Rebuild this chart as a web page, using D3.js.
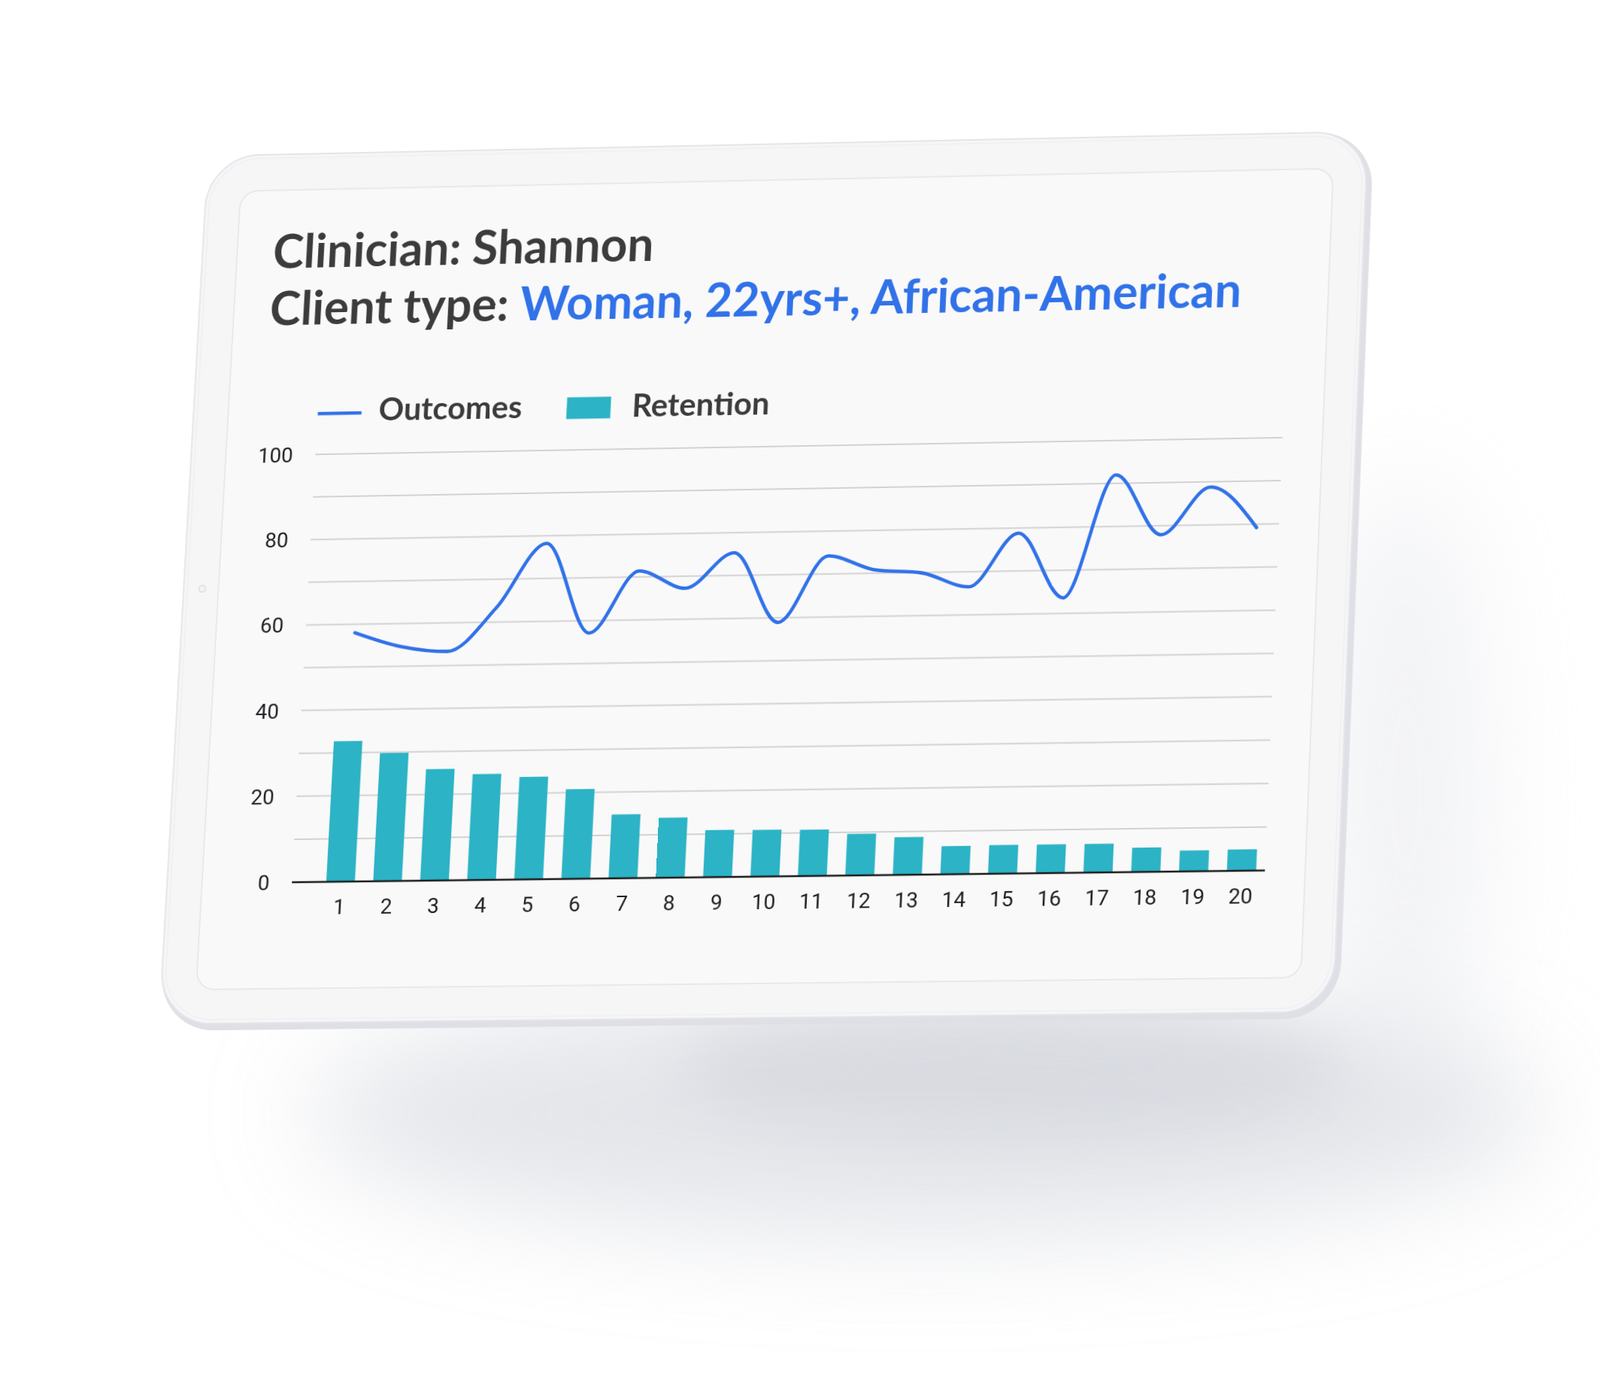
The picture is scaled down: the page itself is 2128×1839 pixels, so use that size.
<!DOCTYPE html>
<html><head><meta charset="utf-8">
<script src="https://cdn.jsdelivr.net/npm/d3@7"></script>
<style>
html,body{margin:0;padding:0;background:#fff;width:2128px;height:1839px;overflow:hidden;}
#bg{position:absolute;left:0;top:0;}
#plane{position:absolute;left:0;top:0;width:2128px;height:1839px;transform-origin:0 0;}
text{white-space:pre;}
</style></head><body>
<svg id="bg" width="2128" height="1839"></svg>
<div id="plane"><svg id="chart" width="2128" height="1839"></svg></div>
<script>
// ---------------- data ----------------
const categories = ["1","2","3","4","5","6","7","8","9","10","11","12","13","14","15","16","17","18","19","20"];
const outcomes   = [58.0, 54.6, 53.3, 63.4, 78.2, 57.1, 71.4, 67.2, 75.3, 58.9, 74.2, 70.8, 69.9, 66.5, 78.8, 63.6, 92.0, 77.9, 88.8, 79.2];
const retention  = [32.7, 29.8, 25.9, 24.6, 23.8, 20.8, 14.8, 13.9, 10.9, 10.8, 10.7, 9.6, 8.7, 6.5, 6.6, 6.6, 6.6, 5.6, 4.8, 4.9];
const yTickLabels = [0, 20, 40, 60, 80, 100];
const gridValues  = [10, 20, 30, 40, 50, 60, 70, 80, 90, 100];
const seriesNames = ["Outcomes", "Retention"];
const titleLine1 = "Clinician: Shannon";
const titleLabel = "Client type: ";
const titleValue = "Woman, 22yrs+, African-American";

// ---------------- colours ----------------
const BLUE = "#3172e9", TEAL = "#2cb3c6", DARK = "#3c3c3c", GRID = "#d2d2d2";

// ---------------- perspective plane ----------------
function homography(src, dst){
  const A=[], b=[];
  for(let i=0;i<4;i++){
    const [x,y]=src[i], [u,v]=dst[i];
    A.push([x,y,1,0,0,0,-x*u,-y*u]); b.push(u);
    A.push([0,0,0,x,y,1,-x*v,-y*v]); b.push(v);
  }
  const n=8;
  for(let i=0;i<n;i++){
    let p=i; for(let r=i+1;r<n;r++) if(Math.abs(A[r][i])>Math.abs(A[p][i])) p=r;
    [A[i],A[p]]=[A[p],A[i]]; [b[i],b[p]]=[b[p],b[i]];
    for(let r=i+1;r<n;r++){ const f=A[r][i]/A[i][i]; for(let c=i;c<n;c++) A[r][c]-=f*A[i][c]; b[r]-=f*b[i]; }
  }
  const h=new Array(n);
  for(let i=n-1;i>=0;i--){ let s=b[i]; for(let c=i+1;c<n;c++) s-=A[i][c]*h[c]; h[i]=s/A[i][i]; }
  return h;
}
function applyH(h,[x,y]){ const w=h[6]*x+h[7]*y+1; return [(h[0]*x+h[1]*y+h[2])/w,(h[3]*x+h[4]*y+h[5])/w]; }

// local plot rectangle
const L=405, R=1695, T=594, B=1165;
const localQuad = [[L,T],[R,T],[L,B],[R,B]];
const screenQuad = [[419.3,604.3],[1706,582],[388.3,1173.3],[1682.7,1157.7]];
const H = homography(localQuad, screenQuad);
const Hi = homography(screenQuad, localQuad);
const inv = p => applyH(Hi, p);
d3.select("#plane").style("transform",
  `matrix3d(${H[0]},${H[3]},0,${H[6]},${H[1]},${H[4]},0,${H[7]},0,0,1,0,${H[2]},${H[5]},0,1)`);

function rectFrom(tl,tr,bl,br){
  const a=inv(tl), b=inv(tr), c=inv(bl), d=inv(br);
  const x=(a[0]+c[0])/2, y=(a[1]+b[1])/2, x2=(b[0]+d[0])/2, y2=(c[1]+d[1])/2;
  return {x, y, w:x2-x, h:y2-y};
}

// ---------------- background shadow (page space) ----------------
const bg = d3.select("#bg");
const defs = bg.append("defs");
defs.append("filter").attr("id","blur").attr("x","-60%").attr("y","-60%").attr("width","220%").attr("height","220%")
  .append("feGaussianBlur").attr("stdDeviation",70);
defs.append("filter").attr("id","blur2").attr("x","-60%").attr("y","-60%").attr("width","220%").attr("height","220%")
  .append("feGaussianBlur").attr("stdDeviation",40);
bg.append("ellipse").attr("cx",1230).attr("cy",1480).attr("rx",820).attr("ry",165)
  .attr("fill","#cfd1d9").attr("opacity",0.55).attr("filter","url(#blur)");
bg.append("ellipse").attr("cx",1350).attr("cy",1420).attr("rx",450).attr("ry",90)
  .attr("fill","#c9ccd5").attr("opacity",0.45).attr("filter","url(#blur2)");
bg.append("ellipse").attr("cx",1870).attr("cy",1050).attr("rx",110).attr("ry",420)
  .attr("fill","#dfe1e7").attr("opacity",0.4).attr("filter","url(#blur)");

// ---------------- tablet (in plane) ----------------
const svg = d3.select("#chart");
const outer = rectFrom([276,206],[1830,176],[212,1374],[1779,1352]);
svg.append("rect").attr("x",outer.x).attr("y",outer.y).attr("width",outer.w).attr("height",outer.h)
  .attr("rx",74).attr("fill","#dfe0e5");
svg.append("rect").attr("x",outer.x).attr("y",outer.y).attr("width",outer.w-8).attr("height",outer.h-9)
  .attr("rx",70).attr("fill","#f6f6f7").attr("stroke","#e4e5ea").attr("stroke-width",2);
svg.append("rect").attr("x",outer.x+5).attr("y",outer.y+5).attr("width",outer.w-18).attr("height",outer.h-19)
  .attr("rx",66).attr("fill","none").attr("stroke","#eeeff2").attr("stroke-width",1.5);
const scr = rectFrom([319,254],[1771,224],[262,1316],[1733,1300]);
svg.append("rect").attr("x",scr.x).attr("y",scr.y).attr("width",scr.w).attr("height",scr.h)
  .attr("rx",24).attr("fill","#f9f9f9").attr("stroke","#e4e4e8").attr("stroke-width",1.5);
const cam = inv([269,783]);
svg.append("circle").attr("cx",cam[0]).attr("cy",cam[1]).attr("r",4.5)
  .attr("fill","#f3f3f5").attr("stroke","#d6d7dc").attr("stroke-width",1.2);

// ---------------- title ----------------
const t1p = inv([362,357]), t2p = inv([358,433]);
const t1 = svg.append("text").attr("x",t1p[0]).attr("y",t1p[1])
  .style("font-family","Lato").style("font-weight",700).style("font-size","58px").attr("fill",DARK).text(titleLine1);
const t2 = svg.append("text").attr("x",t2p[0]).attr("y",t2p[1])
  .style("font-family","Lato").style("font-weight",700).style("font-size","58px");
t2.append("tspan").attr("fill",DARK).text(titleLabel);
t2.append("tspan").attr("fill",BLUE).text(titleValue);
const tfs = 58*1300/t2.node().getComputedTextLength();
t1.style("font-size",tfs+"px"); t2.style("font-size",tfs+"px");

// ---------------- scales ----------------
const y = d3.scaleLinear().domain([0,100]).range([B,T]);
const bandL = inv([434,1172.8])[0], bandR = inv([1671,1158.2])[0];
const x = d3.scaleBand().domain(categories).range([bandL,bandR]).paddingInner(0.39).paddingOuter(0);
const off = 0.02*x.step();
const xl = d3.scalePoint().domain(categories)
  .range([x(categories[0])+x.bandwidth()/2+off, x(categories[categories.length-1])+x.bandwidth()/2+off]);

// ---------------- legend ----------------
const lg1 = inv([422.7,550]);
svg.append("line").attr("x1",lg1[0]).attr("x2",lg1[0]+59).attr("y1",lg1[1]).attr("y2",lg1[1])
  .attr("stroke",BLUE).attr("stroke-width",4.5);
const lt1p = inv([503,559]);
const lt1 = svg.append("text").attr("x",lt1p[0]).attr("y",lt1p[1]).attr("fill",DARK)
  .style("font-family","Lato").style("font-weight",700).style("font-size","38px").text(seriesNames[0]);
const lfs = 38*193/lt1.node().getComputedTextLength();
lt1.style("font-size",lfs+"px");
const sq = inv([754.5,528.5]);
svg.append("rect").attr("x",sq[0]).attr("y",sq[1]).attr("width",59).attr("height",29).attr("fill",TEAL);
const lt2p = inv([840,554]);
svg.append("text").attr("x",lt2p[0]).attr("y",lt2p[1]).attr("fill",DARK)
  .style("font-family","Lato").style("font-weight",700).style("font-size",lfs+"px").text(seriesNames[1]);

// ---------------- grid ----------------
svg.append("g").selectAll("line").data(gridValues).join("line")
  .attr("x1",L).attr("x2",R).attr("y1",d=>y(d)).attr("y2",d=>y(d))
  .attr("stroke",GRID).attr("stroke-width",2);

// y labels
svg.append("g").selectAll("text").data(yTickLabels).join("text")
  .attr("x",L-30).attr("y",d=>y(d)).attr("dy","0.36em").attr("text-anchor","end")
  .style("font-family","Roboto").style("font-size","28px").attr("fill","#202124").text(d=>d);

// ---------------- bars ----------------
svg.append("g").selectAll("rect").data(retention).join("rect")
  .attr("x",(d,i)=>x(categories[i])).attr("width",x.bandwidth())
  .attr("y",d=>y(d)).attr("height",d=>y(0)-y(d)).attr("fill",TEAL);

// axis line
svg.append("line").attr("x1",L).attr("x2",R).attr("y1",y(0)).attr("y2",y(0))
  .attr("stroke","#1b1b1b").attr("stroke-width",2.6);

// x labels
svg.append("g").selectAll("text").data(categories).join("text")
  .attr("x",d=>x(d)+x.bandwidth()/2).attr("y",y(0)+43).attr("text-anchor","middle")
  .style("font-family","Roboto").style("font-size","28px").attr("fill","#202124").text(d=>d);

// ---------------- line ----------------
const line = d3.line().x((d,i)=>xl(categories[i])).y(d=>y(d)).curve(d3.curveMonotoneX);
svg.append("path").datum(outcomes).attr("d",line).attr("fill","none")
  .attr("stroke",BLUE).attr("stroke-width",4.6).attr("stroke-linejoin","round").attr("stroke-linecap","round");
</script>
</body></html>
